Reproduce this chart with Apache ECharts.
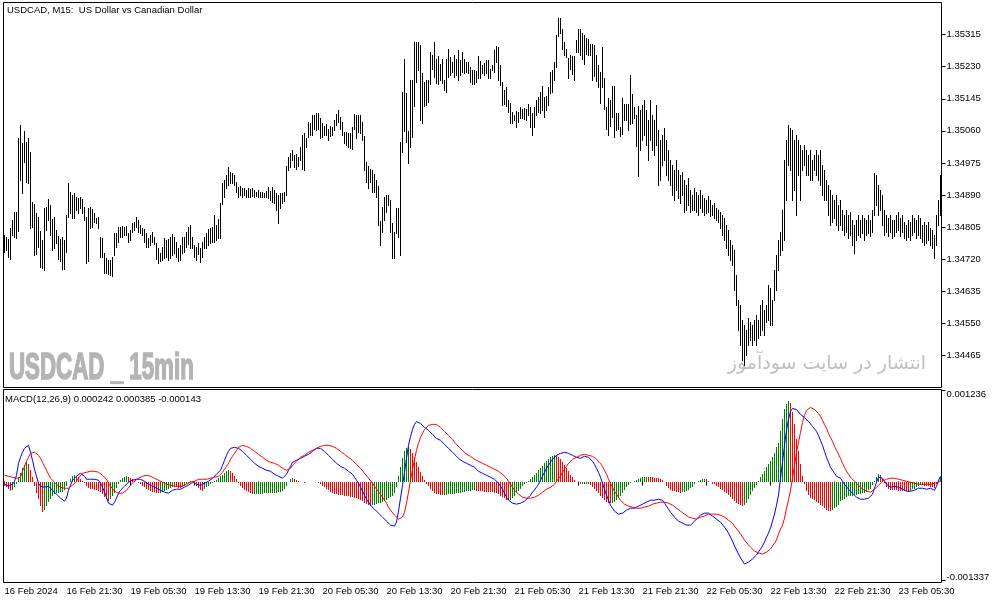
<!DOCTYPE html>
<html><head><meta charset="utf-8">
<script src="https://cdn.jsdelivr.net/npm/echarts@6/dist/echarts.min.js"></script>
<style>html,body{margin:0;padding:0;background:#fff}#c{width:994px;height:603px}</style>
</head><body><div id="c"></div>
<script>
// USDCAD M15 bar highs / lows (price)
const high = [
1.34784,1.34778,1.34773,1.34802,1.34824,1.34844,1.34844,1.35040,1.35075,1.35028,
1.35059,1.35031,1.35042,1.35003,1.34871,1.34866,1.34842,1.34833,1.34795,1.34771,
1.34856,1.34859,1.34879,1.34863,1.34826,1.34833,1.34797,1.34781,1.34773,1.34780,
1.34771,1.34837,1.34921,1.34899,1.34890,1.34894,1.34885,1.34881,1.34885,1.34879,
1.34859,1.34833,1.34855,1.34857,1.34852,1.34842,1.34828,1.34831,1.34778,1.34776,
1.34736,1.34722,1.34718,1.34718,1.34727,1.34789,1.34789,1.34806,1.34806,1.34808,
1.34806,1.34809,1.34790,1.34797,1.34817,1.34819,1.34833,1.34824,1.34811,1.34802,
1.34799,1.34789,1.34775,1.34784,1.34793,1.34780,1.34762,1.34749,1.34736,1.34753,
1.34775,1.34771,1.34773,1.34780,1.34787,1.34780,1.34766,1.34749,1.34758,1.34780,
1.34780,1.34793,1.34806,1.34811,1.34778,1.34758,1.34753,1.34762,1.34749,1.34766,
1.34780,1.34789,1.34799,1.34802,1.34806,1.34837,1.34811,1.34826,1.34868,1.34921,
1.34930,1.34943,1.34965,1.34952,1.34947,1.34943,1.34925,1.34912,1.34914,1.34909,
1.34908,1.34903,1.34908,1.34905,1.34909,1.34903,1.34899,1.34903,1.34899,1.34897,
1.34896,1.34901,1.34912,1.34901,1.34912,1.34903,1.34894,1.34890,1.34894,1.34894,
1.34899,1.34967,1.34991,1.35000,1.35009,1.34996,1.34998,1.34991,1.35018,1.35049,
1.35053,1.35040,1.35084,1.35081,1.35102,1.35103,1.35106,1.35106,1.35093,1.35080,
1.35072,1.35078,1.35066,1.35072,1.35071,1.35088,1.35104,1.35115,1.35097,1.35084,
1.35057,1.35057,1.35055,1.35053,1.35071,1.35104,1.35102,1.35102,1.35102,1.35084,
1.35046,1.34978,1.34967,1.34960,1.34956,1.34946,1.34930,1.34914,1.34822,1.34859,
1.34885,1.34890,1.34890,1.34877,1.34817,1.34793,1.34855,1.34855,1.35031,1.35163,
1.35249,1.35159,1.35060,1.35196,1.35196,1.35295,1.35295,1.35295,1.35287,1.35212,
1.35190,1.35194,1.35196,1.35269,1.35260,1.35295,1.35249,1.35258,1.35236,1.35249,
1.35194,1.35249,1.35278,1.35256,1.35243,1.35260,1.35251,1.35273,1.35247,1.35269,
1.35251,1.35243,1.35243,1.35229,1.35221,1.35221,1.35219,1.35258,1.35245,1.35234,
1.35240,1.35247,1.35247,1.35225,1.35234,1.35273,1.35284,1.35282,1.35234,1.35190,
1.35168,1.35175,1.35143,1.35134,1.35110,1.35102,1.35113,1.35110,1.35122,1.35119,
1.35121,1.35119,1.35132,1.35123,1.35106,1.35123,1.35143,1.35150,1.35163,1.35178,
1.35150,1.35152,1.35176,1.35216,1.35221,1.35243,1.35313,1.35360,1.35360,1.35331,
1.35295,1.35278,1.35254,1.35260,1.35258,1.35258,1.35300,1.35331,1.35331,1.35318,
1.35313,1.35307,1.35302,1.35291,1.35289,1.35287,1.35260,1.35234,1.35216,1.35281,
1.35201,1.35122,1.35146,1.35143,1.35178,1.35178,1.35108,1.35106,1.35071,1.35148,
1.35132,1.35131,1.35131,1.35207,1.35157,1.35123,1.35102,1.35125,1.35115,1.35128,
1.35141,1.35115,1.35088,1.35141,1.35102,1.35088,1.35128,1.35062,1.35035,1.35049,
1.35067,1.35035,1.35009,1.34983,1.34969,1.34956,1.34983,1.34956,1.34943,1.34951,
1.34930,1.34916,1.34935,1.34903,1.34890,1.34908,1.34898,1.34890,1.34903,1.34890,
1.34882,1.34877,1.34887,1.34877,1.34863,1.34869,1.34855,1.34850,1.34845,1.34837,
1.34829,1.34811,1.34797,1.34771,1.34758,1.34744,1.34678,1.34612,1.34599,1.34559,
1.34546,1.34533,1.34565,1.34554,1.34546,1.34559,1.34572,1.34559,1.34599,1.34612,
1.34586,1.34599,1.34652,1.34644,1.34612,1.34691,1.34731,1.34771,1.34792,1.34850,
1.34983,1.35035,1.35075,1.35067,1.35062,1.35035,1.35049,1.35035,1.35022,1.35009,
1.35022,1.35009,1.34996,1.35009,1.34983,1.34996,1.35009,1.34996,1.35009,1.34969,
1.34956,1.34930,1.34916,1.34903,1.34890,1.34877,1.34890,1.34863,1.34877,1.34850,
1.34837,1.34850,1.34837,1.34845,1.34824,1.34811,1.34824,1.34837,1.34824,1.34837,
1.34829,1.34824,1.34837,1.34824,1.34850,1.34948,1.34943,1.34916,1.34903,1.34890,
1.34850,1.34837,1.34829,1.34837,1.34824,1.34824,1.34837,1.34845,1.34829,1.34837,
1.34818,1.34811,1.34824,1.34818,1.34837,1.34829,1.34824,1.34837,1.34829,1.34811,
1.34818,1.34811,1.34818,1.34803,1.34797,1.34784,1.34837,1.34877,1.34943];
const low = [
1.34740,1.34744,1.34727,1.34720,1.34784,1.34778,1.34775,1.34795,1.34930,1.34896,
1.34978,1.34925,1.34921,1.34803,1.34806,1.34731,1.34733,1.34752,1.34700,1.34696,
1.34690,1.34797,1.34824,1.34784,1.34744,1.34749,1.34762,1.34720,1.34714,1.34693,
1.34693,1.34740,1.34833,1.34842,1.34828,1.34828,1.34850,1.34842,1.34855,1.34842,
1.34824,1.34709,1.34714,1.34802,1.34806,1.34819,1.34815,1.34802,1.34727,1.34726,
1.34683,1.34683,1.34681,1.34678,1.34676,1.34731,1.34753,1.34766,1.34780,1.34778,
1.34784,1.34784,1.34766,1.34771,1.34793,1.34797,1.34806,1.34793,1.34789,1.34784,
1.34766,1.34753,1.34752,1.34758,1.34766,1.34760,1.34720,1.34709,1.34714,1.34718,
1.34722,1.34727,1.34718,1.34722,1.34731,1.34736,1.34727,1.34714,1.34718,1.34736,
1.34740,1.34753,1.34760,1.34749,1.34749,1.34727,1.34718,1.34733,1.34712,1.34727,
1.34749,1.34749,1.34758,1.34762,1.34766,1.34766,1.34771,1.34775,1.34775,1.34866,
1.34885,1.34908,1.34916,1.34922,1.34921,1.34916,1.34899,1.34885,1.34890,1.34885,
1.34890,1.34885,1.34884,1.34885,1.34887,1.34885,1.34887,1.34885,1.34885,1.34884,
1.34884,1.34885,1.34881,1.34877,1.34872,1.34870,1.34850,1.34817,1.34855,1.34870,
1.34875,1.34890,1.34956,1.34965,1.34983,1.34965,1.34960,1.34967,1.34983,1.34960,
1.34956,1.35018,1.35044,1.35049,1.35049,1.35066,1.35062,1.35066,1.35040,1.35043,
1.35049,1.35049,1.35037,1.35046,1.35049,1.35062,1.35075,1.35084,1.35066,1.35049,
1.35027,1.35022,1.35018,1.35015,1.35013,1.35066,1.35040,1.35057,1.35053,1.35035,
1.34956,1.34925,1.34908,1.34925,1.34899,1.34899,1.34885,1.34811,1.34758,1.34793,
1.34824,1.34846,1.34863,1.34793,1.34722,1.34722,1.34789,1.34780,1.34731,1.35004,
1.35060,1.35031,1.34975,1.35018,1.35043,1.35125,1.35190,1.35221,1.35090,1.35081,
1.35125,1.35128,1.35137,1.35185,1.35225,1.35203,1.35187,1.35185,1.35194,1.35187,
1.35168,1.35163,1.35203,1.35207,1.35216,1.35203,1.35207,1.35196,1.35207,1.35216,
1.35212,1.35216,1.35212,1.35190,1.35184,1.35185,1.35190,1.35199,1.35201,1.35212,
1.35207,1.35212,1.35200,1.35199,1.35221,1.35216,1.35243,1.35194,1.35181,1.35128,
1.35132,1.35125,1.35110,1.35080,1.35080,1.35088,1.35071,1.35084,1.35093,1.35093,
1.35091,1.35088,1.35102,1.35071,1.35049,1.35071,1.35102,1.35110,1.35106,1.35115,
1.35097,1.35115,1.35128,1.35159,1.35163,1.35194,1.35229,1.35310,1.35319,1.35278,
1.35260,1.35256,1.35200,1.35225,1.35210,1.35194,1.35269,1.35269,1.35260,1.35249,
1.35238,1.35263,1.35260,1.35260,1.35194,1.35205,1.35192,1.35175,1.35134,1.35175,
1.35119,1.35064,1.35049,1.35072,1.35097,1.35044,1.35062,1.35064,1.35046,1.35051,
1.35088,1.35090,1.35062,1.35078,1.35080,1.35093,1.35020,1.34940,1.35009,1.35035,
1.35049,1.35022,1.34983,1.35035,1.35009,1.34996,1.35022,1.34916,1.34930,1.34969,
1.34983,1.34943,1.34930,1.34916,1.34890,1.34877,1.34903,1.34882,1.34869,1.34890,
1.34845,1.34850,1.34863,1.34845,1.34850,1.34850,1.34845,1.34837,1.34856,1.34845,
1.34837,1.34842,1.34845,1.34834,1.34837,1.34829,1.34824,1.34818,1.34803,1.34784,
1.34771,1.34750,1.34731,1.34718,1.34705,1.34639,1.34599,1.34533,1.34493,1.34453,
1.34440,1.34467,1.34493,1.34506,1.34493,1.34506,1.34493,1.34512,1.34520,1.34533,
1.34520,1.34554,1.34559,1.34546,1.34546,1.34612,1.34639,1.34691,1.34731,1.34744,
1.34771,1.34877,1.34969,1.34956,1.34877,1.34903,1.34837,1.34943,1.34877,1.34956,
1.34969,1.34943,1.34943,1.34930,1.34930,1.34956,1.34943,1.34930,1.34916,1.34890,
1.34877,1.34877,1.34837,1.34811,1.34818,1.34829,1.34811,1.34797,1.34811,1.34797,
1.34784,1.34792,1.34776,1.34784,1.34758,1.34736,1.34771,1.34784,1.34779,1.34789,
1.34771,1.34784,1.34789,1.34781,1.34792,1.34837,1.34863,1.34837,1.34850,1.34811,
1.34784,1.34792,1.34781,1.34792,1.34776,1.34781,1.34792,1.34797,1.34781,1.34792,
1.34776,1.34771,1.34779,1.34771,1.34784,1.34792,1.34776,1.34784,1.34776,1.34766,
1.34758,1.34763,1.34771,1.34758,1.34750,1.34723,1.34758,1.34811,1.34837];
// MACD main line (blue) and signal line (red), in units of 0.000001
const macdMain = [
-37,-50,-64,-77,-37,4,85,248,329,397,
451,478,492,397,288,167,72,-23,-64,-91,
-77,-50,-64,-91,-118,-145,-172,-199,-226,-253,
-267,-226,-118,-50,18,45,72,99,112,99,
72,31,18,31,31,31,18,18,-23,-77,
-145,-213,-294,-307,-321,-280,-226,-158,-118,-91,
-64,-37,-9,4,18,18,31,31,31,18,
4,-23,-37,-50,-64,-77,-91,-104,-118,-131,
-145,-158,-158,-145,-118,-118,-104,-104,-104,-91,
-77,-64,-50,-23,-9,-23,-37,-50,-50,-37,
-23,-9,4,31,45,72,99,126,153,221,
288,356,410,451,464,464,464,451,424,410,
383,356,329,302,275,248,234,207,194,180,
167,153,140,140,126,99,85,72,58,45,
58,99,153,207,261,275,288,302,315,329,
343,356,370,397,410,437,451,464,451,437,
410,383,356,329,302,275,248,221,207,194,
180,153,140,126,99,58,18,-23,-77,-131,
-185,-240,-280,-321,-348,-375,-402,-429,-456,-483,
-510,-538,-565,-592,-619,-605,-551,-402,-226,-50,
126,315,492,613,708,776,816,816,789,762,
735,708,695,668,640,613,586,573,559,532,
505,478,451,424,397,370,343,315,288,275,
261,248,234,221,207,194,167,140,126,112,
99,85,72,58,45,31,4,-23,-64,-104,
-158,-213,-253,-280,-294,-307,-307,-294,-294,-280,
-267,-240,-213,-185,-145,-118,-77,-37,18,72,
126,180,221,261,302,329,356,370,383,397,
397,397,383,370,356,343,329,315,315,329,
343,343,329,315,275,234,180,126,58,-23,
-104,-185,-253,-321,-362,-402,-429,-443,-456,-429,
-416,-389,-375,-362,-362,-362,-348,-334,-321,-307,
-294,-280,-267,-253,-253,-253,-240,-240,-226,-253,
-294,-334,-375,-416,-443,-483,-510,-538,-551,-565,
-578,-592,-592,-592,-565,-538,-510,-483,-456,-443,
-429,-416,-429,-443,-470,-483,-510,-524,-551,-578,
-619,-659,-700,-754,-808,-876,-930,-984,-1038,-1079,
-1120,-1120,-1093,-1079,-1052,-1025,-998,-957,-917,-876,
-822,-754,-700,-632,-538,-443,-321,-185,45,261,
492,695,843,952,992,1006,979,952,911,884,
870,843,816,789,749,722,681,627,559,492,
410,329,261,194,153,112,72,58,45,4,
-37,-64,-104,-131,-158,-185,-213,-226,-240,-240,
-240,-240,-226,-213,-172,-91,-9,58,72,45,
4,-37,-64,-77,-64,-64,-77,-77,-91,-104,
-118,-131,-145,-131,-118,-118,-104,-91,-77,-91,
-91,-104,-104,-91,-104,-118,-64,18,72];
const macdSignal = [
85,72,72,58,58,45,45,45,58,140,
207,275,329,383,397,397,383,356,315,261,
207,153,99,45,18,-9,-37,-64,-77,-91,
-91,-91,-91,-77,-50,-23,4,45,72,112,
112,126,126,140,140,140,126,126,112,85,
58,31,-23,-64,-91,-131,-145,-158,-172,-158,
-145,-118,-91,-50,-23,4,31,45,58,72,
72,85,85,72,58,45,31,18,4,-9,
-23,-37,-37,-50,-64,-64,-64,-64,-64,-64,
-50,-37,-23,-9,4,4,18,31,31,31,
31,31,31,45,45,58,58,72,85,126,
167,207,248,302,343,383,424,464,478,492,
492,478,478,451,424,410,383,370,343,329,
315,288,275,261,248,248,234,221,207,180,
167,153,167,180,221,248,275,302,329,343,
356,370,397,410,424,437,451,464,478,478,
492,492,492,492,478,464,451,424,410,383,
370,343,329,302,288,261,234,207,180,153,
112,85,45,18,-23,-64,-104,-131,-172,-213,
-253,-294,-348,-389,-416,-456,-483,-510,-510,-483,
-416,-294,-145,18,167,302,424,519,600,654,
708,735,762,776,776,776,776,749,735,708,
681,654,627,600,573,532,505,478,451,424,
397,370,356,343,329,302,288,275,261,248,
234,221,207,194,180,167,153,140,126,99,
72,45,4,-37,-77,-118,-145,-172,-199,-213,
-226,-226,-226,-226,-213,-213,-199,-185,-172,-145,
-131,-104,-91,-77,-50,-37,4,31,72,126,
167,207,248,275,302,315,329,343,356,356,
370,370,356,356,343,329,302,275,248,207,
153,99,31,-23,-77,-131,-172,-213,-253,-280,
-307,-321,-334,-348,-348,-362,-362,-362,-362,-362,
-348,-348,-334,-321,-307,-294,-294,-280,-280,-280,
-280,-280,-294,-307,-321,-334,-362,-389,-402,-429,
-443,-456,-483,-497,-497,-510,-510,-497,-483,-470,
-470,-456,-443,-443,-443,-443,-443,-456,-456,-470,
-483,-497,-524,-538,-565,-605,-632,-673,-714,-754,
-795,-822,-862,-890,-917,-944,-957,-971,-984,-984,
-971,-957,-944,-917,-876,-835,-795,-714,-646,-592,
-497,-362,-253,-118,45,221,397,532,668,803,
897,965,992,1006,992,979,952,925,884,830,
776,722,654,600,546,478,424,370,315,248,
194,140,99,58,31,4,-23,-50,-77,-104,
-118,-131,-145,-145,-131,-104,-77,-50,-23,4,
18,31,45,45,45,45,31,31,18,18,
4,4,-9,-9,-23,-23,-37,-37,-37,-37,
-37,-37,-37,-37,-37,-23,-23,-9,18];
// MACD histogram bars, in units of 0.000001
const macdHist = [
-60,-80,-100,-125,-110,-80,-30,50,120,180,
230,265,240,160,60,-60,-150,-240,-330,-415,
-390,-330,-275,-235,-200,-170,-160,-152,-146,-140,
-120,-60,-5,35,70,90,80,60,35,10,
-20,-60,-90,-100,-108,-114,-120,-126,-138,-170,
-210,-240,-270,-240,-200,-150,-90,-30,25,50,
65,75,65,45,28,10,-5,-20,-40,-60,
-80,-100,-115,-128,-138,-146,-152,-158,-150,-140,
-128,-115,-100,-86,-72,-75,-79,-82,-84,-70,
-55,-38,-18,3,12,-25,-60,-90,-110,-122,
-100,-80,-58,-38,-18,2,22,45,70,95,
120,140,155,140,110,70,30,-15,-55,-88,
-112,-132,-148,-162,-174,-172,-170,-168,-166,-164,
-162,-160,-158,-156,-154,-152,-150,-148,-140,-125,
-100,-55,-10,30,50,40,25,10,-5,-10,
-15,-12,-8,-5,-3,0,-10,-25,-40,-60,
-80,-100,-120,-140,-155,-165,-172,-178,-183,-188,
-192,-196,-200,-205,-210,-218,-228,-240,-255,-270,
-285,-300,-315,-330,-325,-315,-305,-295,-285,-272,
-258,-245,-230,-215,-200,-150,-70,80,200,320,
410,460,470,440,390,330,270,200,130,70,
15,-30,-65,-100,-125,-150,-165,-175,-178,-180,
-178,-176,-174,-172,-170,-165,-160,-155,-150,-143,
-136,-130,-126,-122,-120,-118,-122,-126,-130,-133,
-136,-139,-142,-145,-148,-152,-160,-172,-190,-210,
-230,-250,-256,-245,-220,-190,-160,-125,-95,-65,
-40,-15,12,40,68,95,122,150,185,215,
250,280,305,330,350,362,355,340,312,272,
230,190,140,95,55,25,0,-25,-40,-35,
-30,-28,-32,-42,-68,-95,-122,-150,-190,-230,
-257,-278,-290,-298,-290,-275,-257,-230,-200,-150,
-110,-70,-42,-20,-8,5,18,30,42,55,
62,68,66,62,58,54,50,45,38,25,
-10,-54,-81,-109,-122,-135,-142,-148,-152,-148,
-140,-128,-109,-92,-68,-30,-2,14,26,34,
40,38,14,0,-27,-40,-60,-75,-95,-110,
-136,-160,-180,-215,-243,-270,-295,-310,-320,-326,
-322,-298,-235,-189,-135,-81,-41,14,67,108,
149,203,244,285,338,392,474,529,691,853,
989,1057,1096,1070,947,785,582,420,243,81,
-27,-122,-176,-217,-243,-257,-271,-298,-325,-338,
-366,-385,-398,-406,-393,-366,-352,-312,-270,-244,
-231,-215,-203,-196,-190,-185,-180,-175,-170,-160,
-150,-140,-120,-95,-50,13,68,100,90,41,
-14,-68,-100,-110,-115,-118,-120,-122,-124,-126,
-128,-132,-136,-122,-105,-95,-75,-60,-48,-52,
-56,-62,-67,-70,-75,-90,-40,27,60];
const tickLabels = ['16 Feb 2024','16 Feb 21:30','19 Feb 05:30','19 Feb 13:30','19 Feb 21:30','20 Feb 05:30','20 Feb 13:30','20 Feb 21:30','21 Feb 05:30','21 Feb 13:30','21 Feb 21:30','22 Feb 05:30','22 Feb 13:30','22 Feb 21:30','23 Feb 05:30'];
const priceTicks = [1.34465,1.34550,1.34635,1.34720,1.34805,1.34890,1.34975,1.35060,1.35145,1.35230,1.35315];
const macdTicks = [-0.001337, 0.001236];

// bar times (15 min, weekend skipped)
const categories = [];
const t0 = Date.UTC(2024,1,16,13,45), wkStart = Date.UTC(2024,1,17,0,0);
const p2 = n => String(n).padStart(2,'0');
for (let i=0;i<high.length;i++){
  let t = t0 + i*900000;
  if (t >= wkStart) t += 2*86400000;
  const d = new Date(t);
  categories.push(d.getUTCDate()+' Feb '+p2(d.getUTCHours())+':'+p2(d.getUTCMinutes()));
}
const macd = macdMain.map(v=>v/1e6), signal = macdSignal.map(v=>v/1e6);
const hist = macdHist.map(v=>v/1e6);
// bar colour: green while the histogram rises, red while it falls
const histUp = [];
hist.forEach((v,i)=>{ histUp.push(i===0 ? false : (v>hist[i-1] ? true : (v<hist[i-1] ? false : histUp[i-1]))); });

const FONT = '"Liberation Sans",Arial,sans-serif';
const FS = 9.5;
const showTick = (idx, val) => idx === 0 || tickLabels.indexOf(val) >= 0;
const chart = echarts.init(document.getElementById('c'), null, {renderer:'canvas'});
chart.setOption({
  animation:false,
  backgroundColor:'#ffffff',
  grid:[
    {left:3.5, top:2.5, width:938, height:385, show:true, borderColor:'#000', borderWidth:1, backgroundColor:'transparent', outerBoundsMode:'none', containLabel:false},
    {left:3.5, top:389.5, width:938, height:193, show:true, borderColor:'#000', borderWidth:1, backgroundColor:'transparent', outerBoundsMode:'none', containLabel:false}
  ],
  xAxis:[
    {type:'category', gridIndex:0, data:categories, boundaryGap:true, axisLine:{show:false}, axisTick:{show:false}, axisLabel:{show:false}, splitLine:{show:false}},
    {type:'category', gridIndex:1, data:categories, boundaryGap:true, axisLine:{show:false},
     axisTick:{show:true, alignWithLabel:true, interval:showTick, length:4, lineStyle:{color:'#000'}},
     axisLabel:{interval:showTick, hideOverlap:false, formatter:(v,i)=> i===0 ? tickLabels[0] : v, align:'left', verticalAlign:'top', margin:4, color:'#000', fontFamily:FONT, fontSize:FS},
     splitLine:{show:false}}
  ],
  yAxis:[
    {type:'value', gridIndex:0, position:'right', min:1.3438, max:1.354, scale:true,
     axisLine:{show:false}, splitLine:{show:false},
     axisTick:{show:true, length:4, lineStyle:{color:'#000'}, customValues:priceTicks},
     axisLabel:{customValues:priceTicks, formatter:v=>v.toFixed(5), margin:5, color:'#000', fontFamily:FONT, fontSize:FS}},
    {type:'value', gridIndex:1, position:'right', min:-0.001371, max:0.00125,
     axisLine:{show:false}, splitLine:{show:false},
     axisTick:{show:true, length:4, lineStyle:{color:'#000'}, customValues:macdTicks},
     axisLabel:{customValues:macdTicks, margin:5, color:'#000', fontFamily:FONT, fontSize:FS,
       formatter:v=> v>0 ? '{t|'+v.toFixed(6)+'}' : '{b|'+v.toFixed(6)+'}',
       rich:{t:{padding:[8,0,0,0], fontFamily:FONT, fontSize:FS, color:'#000'}, b:{padding:[0,0,6,0], fontFamily:FONT, fontSize:FS, color:'#000'}}}}
  ],
  graphic:[
    {type:'text', x:7, y:5, z:10, style:{text:'USDCAD, M15:  US Dollar vs Canadian Dollar', font:'9.5px '+FONT, fill:'#000', verticalAlign:'top'}},
    {type:'text', x:5, y:394, z:10, style:{text:'MACD(12,26,9) 0.000242 0.000385 -0.000143', font:'9.5px '+FONT, fill:'#000', verticalAlign:'top'}},
    {type:'text', x:9, y:351, scaleX:0.62, z:-1, style:{text:'USDCAD _ 15min', font:'bold 36px "Liberation Sans",Arial,sans-serif', fill:'#b4b4b4', stroke:'#b4b4b4', lineWidth:1.6, verticalAlign:'top', align:'left'}},
    {type:'text', right:68, top:355, z:-1, style:{text:'انتشار در سایت سودآموز', font:'19px "DejaVu Sans"', fill:'#c0c0c0'}}
  ],
  series:[
    {type:'custom', name:'USDCAD', xAxisIndex:0, yAxisIndex:0, silent:true,
     data: high.map((h,i)=>[i,h,low[i]]), encode:{x:0, y:[1,2]},
     renderItem:(p,api)=>{
       const i=api.value(0);
       const a=api.coord([i,api.value(1)]), b=api.coord([i,api.value(2)]);
       const x=Math.floor(a[0])+0.5;
       return {type:'line', shape:{x1:x, y1:Math.round(a[1]), x2:x, y2:Math.round(b[1])+1}, style:{stroke:'#000', lineWidth:1}};
     }},
    {type:'custom', name:'Histogram', xAxisIndex:1, yAxisIndex:1, silent:true, z:2,
     data: hist.map((h,i)=>[i,h]), encode:{x:0, y:1},
     renderItem:(p,api)=>{
       const i=api.value(0), v=api.value(1);
       const a=api.coord([i,0]), b=api.coord([i,v]);
       const x=Math.floor(a[0])+0.5;
       return {type:'line', shape:{x1:x, y1:Math.round(a[1]), x2:x, y2:Math.round(b[1])}, style:{stroke: histUp[i] ? '#008000' : '#ff0000', lineWidth:1}};
     }},
    {type:'line', name:'MACD', xAxisIndex:1, yAxisIndex:1, data:macd, symbol:'none', silent:true, z:3, lineStyle:{color:'#0000ff', width:1}},
    {type:'line', name:'Signal', xAxisIndex:1, yAxisIndex:1, data:signal, symbol:'none', silent:true, z:3, lineStyle:{color:'#ff0000', width:1}}
  ]
});
</script>
</body></html>
